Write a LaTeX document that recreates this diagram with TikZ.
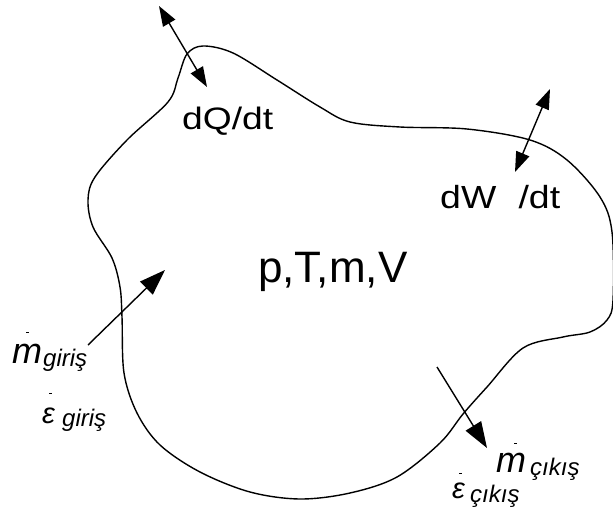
\documentclass[tikz,border=0pt]{standalone}
\usepackage{fontspec}
\setmainfont{Liberation Sans}
\usetikzlibrary{arrows.meta}
\tikzset{
  outline/.style={line width=1.4pt, line join=round},
  flow/.style={line width=1.4pt, -{Triangle[length=26pt,width=18pt]}},
  dflow/.style={line width=1.4pt, {Triangle[length=20pt,width=14pt]}-{Triangle[length=20pt,width=14pt]}},
  lbl/.style={inner sep=0pt, anchor=base west},
  dotmark/.style={fill=black}
}
\begin{document}
\begin{tikzpicture}[x=1pt,y=-1pt]
\useasboundingbox (0,0) rectangle (613,516);
% control volume outline
\draw[outline] plot[smooth cycle, tension=0.55] coordinates {
(203,46) (233,53) (277,80) (320,107) (350,122) (400,127) (467,129)
(530,140) (567,160) (600,197) (612,232) (613,300) (607,320) (590,332)
(563,337) (523,348) (487,387) (463,414) (440,443) (397,477) (350,493)
(300,499) (250,492) (200,472) (160,445) (137,413) (124,373) (122,317)
(120,287) (112,258) (93,227) (88,200) (95,177) (127,140) (168,102)
(178,78) (187,54)};
% named end points
\coordinate (qa) at (159,6);
\coordinate (qb) at (207,87);
\coordinate (wa) at (550,89);
\coordinate (wb) at (515,172);
\coordinate (ia) at (88,345);
\coordinate (ib) at (165,270);
\coordinate (oa) at (437,367);
\coordinate (ob) at (487,448);
\draw[dflow] (qa) -- (qb);
\draw[dflow] (wa) -- (wb);
\draw[flow] (ia) -- (ib);
\draw[flow] (oa) -- (ob);
% labels
\node[lbl, font=\fontsize{31}{31}\selectfont] (dq) at (182,130) {\scalebox{1.2}[1]{dQ/dt}};
\node[lbl, font=\fontsize{32}{32}\selectfont] (dw) at (440,208) {\scalebox{1.17}[1]{dW\hspace{19pt}/dt}};
\node[lbl, font=\fontsize{44}{44}\selectfont] (ptmv) at (258,282) {p,T,m,V};
% inlet labels
\node[lbl, font=\fontsize{36}{36}\selectfont\itshape] (mi) at (12,363) {m};
\node[lbl, font=\fontsize{24}{24}\selectfont\itshape] (mis) at (43,366) {giriş};
\node[lbl, font=\fontsize{29}{29}\selectfont\itshape] (ei) at (42,423) {ε};
\node[lbl, font=\fontsize{24}{24}\selectfont\itshape] (eis) at (62,426) {giriş};
% outlet labels
\node[lbl, font=\fontsize{36}{36}\selectfont\itshape] (mo) at (496,472) {m};
\node[lbl, font=\fontsize{24}{24}\selectfont\itshape] (mos) at (530,475) {çıkış};
\node[lbl, font=\fontsize{29}{29}\selectfont\itshape] (eo) at (452,498) {ε};
\node[lbl, font=\fontsize{24}{24}\selectfont\itshape] (eos) at (470,502) {çıkış};
% flow-rate dots
\fill[dotmark] (25.5,331.5) rectangle (28.5,333);
\fill[dotmark] (48.5,392.5) rectangle (51.5,394);
\fill[dotmark] (513.5,442.5) rectangle (516.5,444);
\fill[dotmark] (458.5,472.5) rectangle (461.5,474);
\end{tikzpicture}
\end{document}
